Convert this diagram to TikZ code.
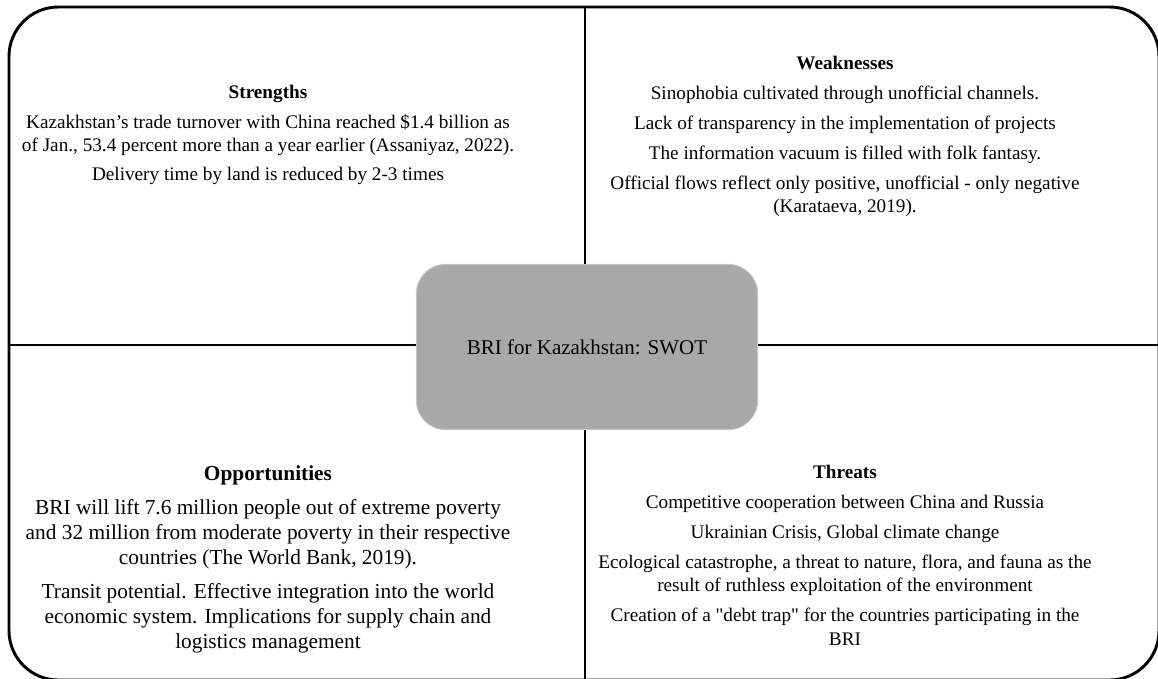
\documentclass[tikz,border=0pt]{standalone}
\usepackage{fontspec}
\setmainfont{Liberation Serif}[Ligatures=TeXOff]
\begin{document}
\begin{tikzpicture}[x=0.75pt,y=-0.75pt,
    frame/.style={line width=2.2pt},
    swot/.style={anchor=north, align=center, inner sep=0pt, font=\fontsize{14.4}{17.5}\selectfont},
    swotbig/.style={anchor=north, align=center, inner sep=0pt, font=\fontsize{16}{18.75}\selectfont}]
    \useasboundingbox (0,0) rectangle (1158,679);
    \clip (0,0) rectangle (1158,679);
    % Outer frame
    \draw[frame, rounded corners=37pt] (9,7) rectangle (1159,680);
    \coordinate (ftop) at (585,7);
    \coordinate (fbot) at (585,680);
    \coordinate (fleft) at (9,345);
    \coordinate (fright) at (1159,345);
    % Centre
    \node[fill=black!34, draw=black!22, line width=0.6pt, rounded corners=22pt,
        minimum width=256pt, minimum height=124pt,
        font=\fontsize{15.75}{18}\selectfont] (core) at (587,347) {BRI for Kazakhstan: SWOT};
    % Dividers
    \draw[frame] (ftop) -- (ftop |- core.north);
    \draw[frame] (fbot |- core.south) -- (fbot);
    \draw[frame] (fleft) -- (fleft -| core.west);
    \draw[frame] (fright -| core.east) -- (fright);
    % Quadrants
    \node[swot] (strengths) at (268,85) {\textbf{Strengths}\\[5pt]
        Kazakhstan’s trade turnover with China reached \$1.4 billion as\\
        of Jan., 53.4 percent more than a year earlier (Assaniyaz, 2022).\\[4pt]
        Delivery time by land is reduced by 2-3 times};
    \node[swot] (weaknesses) at (845,56) {\textbf{Weaknesses}\\[5pt]
        Sinophobia cultivated through unofficial channels.\\[5pt]
        Lack of transparency in the implementation of projects\\[5pt]
        The information vacuum is filled with folk fantasy.\\[5pt]
        Official flows reflect only positive, unofficial - only negative\\
        (Karataeva, 2019).};
    \node[swotbig] (opportunities) at (268,465) {\textbf{Opportunities}\\[7pt]
        BRI will lift 7.6 million people out of extreme poverty\\
        and 32 million from moderate poverty in their respective\\
        countries (The World Bank, 2019).\\[7pt]
        Transit potential. Effective integration into the world\\
        economic system. Implications for supply chain and\\
        logistics management};
    \node[swot] (threats) at (845,465) {\textbf{Threats}\\[5pt]
        Competitive cooperation between China and Russia\\[5pt]
        Ukrainian Crisis, Global climate change\\[5pt]
        Ecological catastrophe, a threat to nature, flora, and fauna as the\\
        result of ruthless exploitation of the environment\\[5pt]
        Creation of a "debt trap" for the countries participating in the\\
        BRI};
\end{tikzpicture}
\end{document}
